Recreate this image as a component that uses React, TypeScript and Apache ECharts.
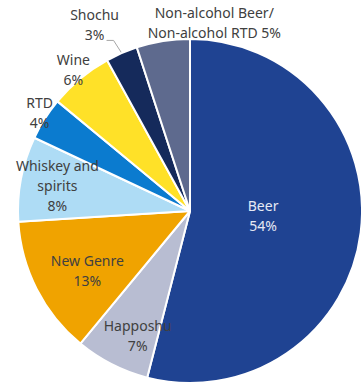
import React, { useEffect, useRef } from "react";
import * as echarts from "echarts";

const categories = [
  "Beer",
  "Happoshu",
  "New Genre",
  "Whiskey and spirits",
  "RTD",
  "Wine",
  "Shochu",
  "Non-alcohol Beer/Non-alcohol RTD",
];
const shares = [54, 7, 13, 8, 4, 6, 3, 5];
const labelNames = [
  "Beer",
  "Happoshu",
  "New Genre",
  "Whiskey and\nspirits",
  "RTD",
  "Wine",
  "Shochu",
  "Non-alcohol Beer/\nNon-alcohol RTD",
];
const labelJoin = ["\n", "\n", "\n", "\n", "\n", "\n", "\n", " "];

const colors = ["#1F4392", "#B8BDD2", "#F0A300", "#AEDCF5", "#0B7BCF", "#FFE128", "#152A5B", "#5E6A8E"];
const labelColors = ["#E6E9F4", "#404040", "#404040", "#404040", "#404040", "#404040", "#404040", "#404040"];
// label placement: fraction of radius along slice mid-angle, plus pixel nudge
const labelRadiusFrac = [0.44, 0.785, 0.67, 0.785, 1.035, 1.064, 1.163, 1.105];
const labelNudge: [number, number][] = [
  [-2, -5], [9, 4], [0, 7], [0, 0], [0, -3], [0, 0], [-16, -3], [54, -1],
];

const CX = 190;
const CY = 211;
const R = 172;

export default function App() {
  const ref = useRef<HTMLDivElement>(null);
  useEffect(() => {
    if (!ref.current) return;
    const chart = echarts.init(ref.current, null, { renderer: "svg" });
    const total = shares.reduce((a, b) => a + b, 0);
    const mids: number[] = [];
    let acc = 0;
    shares.forEach((v) => {
      mids.push(((acc + v / 2) / total) * 2 * Math.PI);
      acc += v;
    });
    const labelPos = (i: number) => {
      const r = labelRadiusFrac[i] * R;
      return [CX + r * Math.sin(mids[i]) + labelNudge[i][0], CY - r * Math.cos(mids[i]) + labelNudge[i][1]];
    };
    chart.setOption({
      animation: false,
      series: [
        {
          type: "pie",
          center: [CX, CY],
          radius: [0, R],
          startAngle: 90,
          clockwise: true,
          avoidLabelOverlap: false,
          itemStyle: { borderColor: "#ffffff", borderWidth: 2 },
          label: {
            show: true,
            position: "outside",
            fontFamily: "Noto Sans",
            fontSize: 14,
            lineHeight: 20,
            align: "center",
          },
          labelLine: { show: false },
          emphasis: { disabled: true },
          labelLayout: (params: any) => {
            const i = params.dataIndex;
            const [x, y] = labelPos(i);
            const res: any = { x, y, align: "center", verticalAlign: "middle" };
            if (i === 6) {
              const a = mids[i];
              res.labelLinePoints = [
                [CX + R * Math.sin(a), CY - R * Math.cos(a)],
                [x + 19, y + 16],
                [x + 12, y + 16],
              ];
            }
            return res;
          },
          data: categories.map((name, i) => ({
            name,
            value: shares[i],
            itemStyle: { color: colors[i] },
            label: {
              color: labelColors[i],
              formatter: `${labelNames[i]}${labelJoin[i]}${shares[i]}%`,
            },
            labelLine:
              i === 6
                ? { show: true, lineStyle: { color: "#A6A6A6", width: 1 } }
                : { show: false },
          })),
        },
      ],
    });
    return () => chart.dispose();
  }, []);
  return (
    <div
      ref={ref}
      style={{ position: "fixed", left: 0, top: 0, width: 361, height: 387, background: "#ffffff" }}
    />
  );
}
